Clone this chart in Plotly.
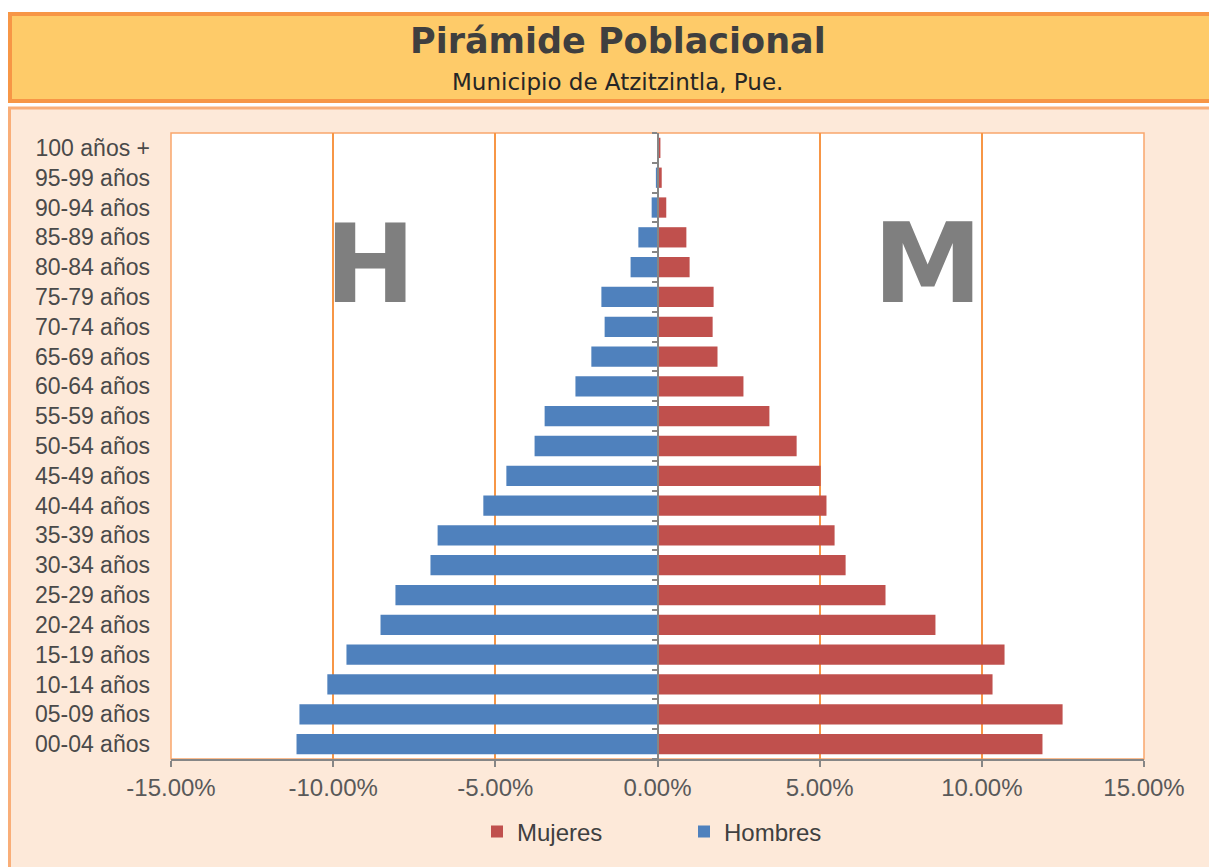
import plotly.graph_objects as go

# ---------------- data ----------------
categories = ["00-04 años", "05-09 años", "10-14 años", "15-19 años", "20-24 años",
              "25-29 años", "30-34 años", "35-39 años", "40-44 años", "45-49 años",
              "50-54 años", "55-59 años", "60-64 años", "65-69 años", "70-74 años",
              "75-79 años", "80-84 años", "85-89 años", "90-94 años", "95-99 años",
              "100 años +"]
hombres_pct = [11.13, 11.04, 10.18, 9.59, 8.54, 8.08, 7.00, 6.78, 5.37, 4.66,
               3.79, 3.48, 2.53, 2.04, 1.63, 1.73, 0.83, 0.59, 0.18, 0.05, 0.0]
mujeres_pct = [11.87, 12.49, 10.33, 10.70, 8.57, 7.03, 5.80, 5.46, 5.21, 5.03,
               4.29, 3.45, 2.65, 1.85, 1.70, 1.73, 0.99, 0.89, 0.27, 0.13, 0.09]
tick_values = [-0.15, -0.10, -0.05, 0.0, 0.05, 0.10, 0.15]
tick_labels = ["-15.00%", "-10.00%", "-5.00%", "0.00%", "5.00%", "10.00%", "15.00%"]

title_text = "Pirámide Poblacional"
subtitle_text = "Municipio de Atzitzintla, Pue."

BLUE = "#4F81BD"
RED = "#C0504D"
ORANGE = "rgb(247,150,70)"
GRAY_AX = "#868686"

fig = go.Figure()
fig.add_trace(go.Bar(
    name="Mujeres", y=categories, x=[v / 100 for v in mujeres_pct],
    orientation="h", marker=dict(color=RED, line=dict(width=0)),
    yaxis="y", hovertemplate="%{y}: %{x:.2%}<extra>Mujeres</extra>"))
fig.add_trace(go.Bar(
    name="Hombres", y=categories, x=[-v / 100 for v in hombres_pct],
    orientation="h", marker=dict(color=BLUE, line=dict(width=0)),
    yaxis="y2", customdata=[v / 100 for v in hombres_pct],
    hovertemplate="%{y}: %{customdata:.2%}<extra>Hombres</extra>"))

# page body has an 8px margin (overflow hidden so nothing scrolls)
OFF = 8
W, H = 1217, 867
ML, MT = 171 - OFF, 133 - OFF
PW, PH = 973, 626
MR = W - ML - PW
MB = H - MT - PH


def px_x(p):  # screen pixel -> paper fraction
    return (p - OFF - ML) / PW


def px_y(p):
    return (OFF + MT + PH - p) / PH


shapes = [
    # outer chart area
    dict(type="rect", xref="paper", yref="paper", layer="below",
         x0=px_x(9.5), x1=px_x(1240), y0=px_y(900), y1=px_y(108),
         fillcolor="#FDE9D9", line=dict(color="#F9AE78", width=3)),
    # header band
    dict(type="rect", xref="paper", yref="paper", layer="below",
         x0=px_x(10), x1=px_x(1240), y0=px_y(101), y1=px_y(14),
         fillcolor="#FECB69", line=dict(color=ORANGE, width=4)),
    # plot area
    dict(type="rect", xref="paper", yref="paper", layer="below",
         x0=0, x1=1, y0=0, y1=1,
         fillcolor="white", line=dict(color="#F9A66C", width=1.5)),
]

annotations = [
    dict(text=title_text, xref="paper", yref="paper", x=px_x(618), y=px_y(41),
         showarrow=False, xanchor="center", yanchor="middle",
         font=dict(family="DejaVu Sans", size=35, color="#3F3F3F", weight="bold")),
    dict(text=subtitle_text, xref="paper", yref="paper", x=px_x(617), y=px_y(82),
         showarrow=False, xanchor="center", yanchor="middle",
         font=dict(family="DejaVu Sans", size=23, color="#262626")),
    dict(text="H", xref="paper", yref="paper", x=px_x(370), y=px_y(264),
         showarrow=False, xanchor="center", yanchor="middle",
         font=dict(family="DejaVu Sans", size=108, color="#7F7F7F", weight="bold")),
    dict(text="M", xref="paper", yref="paper", x=px_x(927), y=px_y(264),
         showarrow=False, xanchor="center", yanchor="middle",
         font=dict(family="DejaVu Sans", size=110, color="#7F7F7F", weight="bold")),
]

fig.update_layout(
    width=W, height=H,
    margin=dict(l=ML, r=MR, t=MT, b=MB, pad=0),
    paper_bgcolor="white",
    plot_bgcolor="rgba(0,0,0,0)",
    barmode="overlay",
    bargap=0.32,
    shapes=shapes,
    annotations=annotations,
    xaxis=dict(
        range=[-0.15, 0.15], tickvals=tick_values, ticktext=tick_labels,
        showgrid=True, gridcolor=ORANGE, gridwidth=1.5, zeroline=False,
        showline=True, linecolor=GRAY_AX, linewidth=1.5,
        ticks="outside", ticklen=6, tickcolor=GRAY_AX, tickwidth=1.5,
        tickfont=dict(family="Liberation Sans, Arial", size=24, color="#595959"),
        fixedrange=True),
    yaxis=dict(
        type="category", categoryorder="array", categoryarray=categories,
        range=[-0.5, len(categories) - 0.5],
        showgrid=False, zeroline=False, showline=False, ticks="",
        ticklabelstandoff=20,
        tickfont=dict(family="Liberation Sans, Arial", size=23, color="#4A4A4A"),
        fixedrange=True),
    yaxis2=dict(
        type="category", categoryorder="array", categoryarray=categories,
        range=[-0.5, len(categories) - 0.5],
        overlaying="y", anchor="free", position=0.5, side="left",
        showgrid=False, zeroline=False, showline=True, linecolor=GRAY_AX,
        linewidth=1.5, ticks="outside", tickson="boundaries", ticklen=5,
        tickcolor=GRAY_AX, tickwidth=1.5, showticklabels=False, fixedrange=True),
    legend=dict(
        orientation="h", x=px_x(684), y=px_y(832), xanchor="center", yanchor="middle",
        traceorder="normal", bgcolor="rgba(0,0,0,0)",
        font=dict(family="Liberation Sans, Arial", size=24, color="#404040"),
        itemwidth=30, entrywidth=162, entrywidthmode="pixels"),
)

fig.write_html("out.html",
               post_script="document.documentElement.style.overflow='hidden';"
                           "document.body.style.overflow='hidden';")
